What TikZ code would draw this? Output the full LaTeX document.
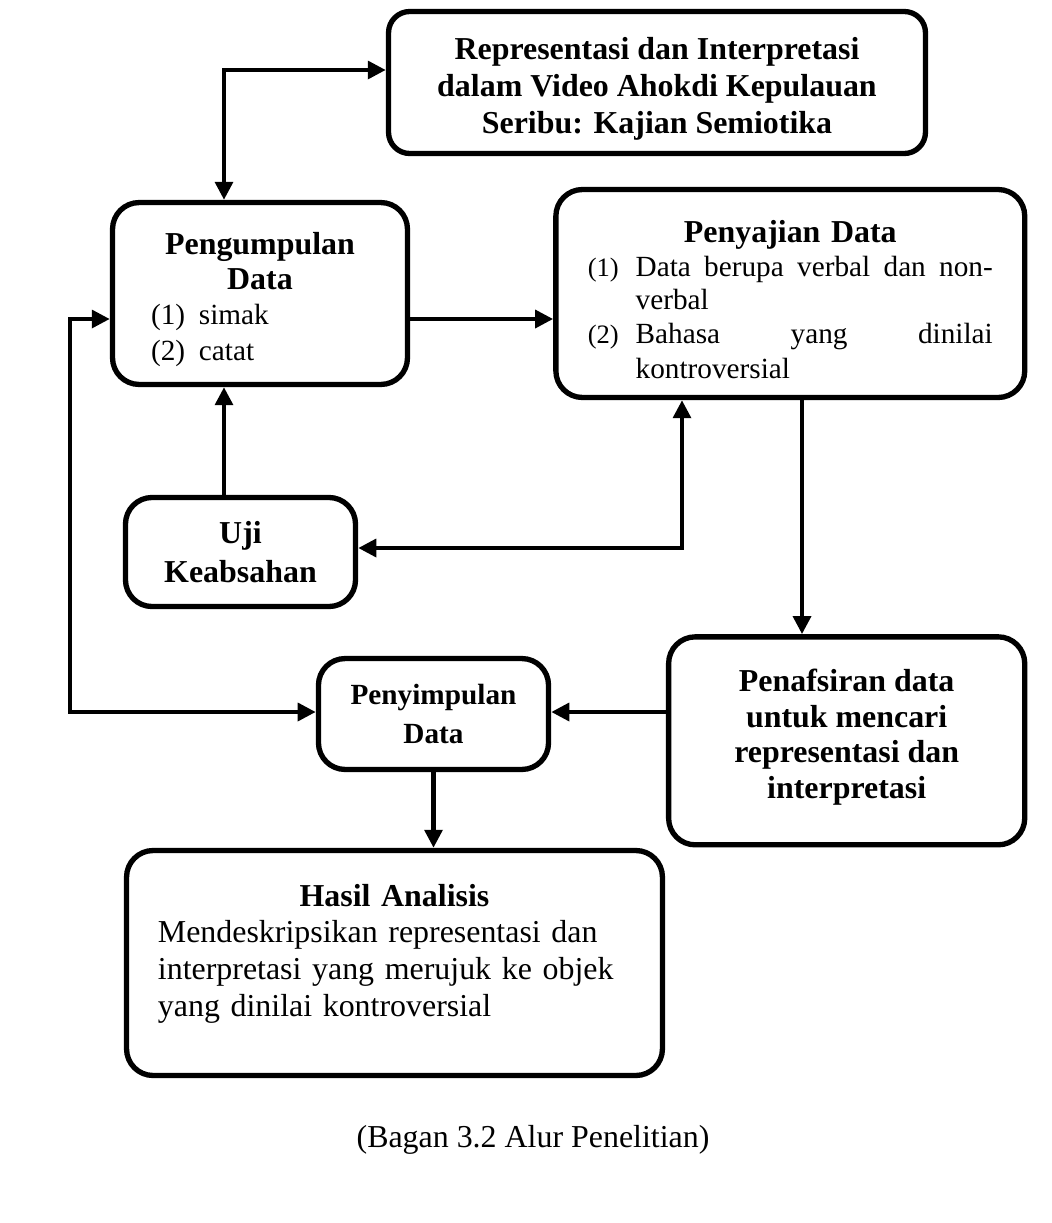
\documentclass[tikz,border=0pt]{standalone}
\usepackage{fontspec}
\setmainfont{Liberation Serif}
\usepackage{tikz}
\usetikzlibrary{arrows.meta,positioning}
\setlength{\parindent}{0pt}

\begin{document}
\begin{tikzpicture}[
    x=0.376pt, y=-0.376pt,
    box/.style={draw, line width=2pt, rounded corners=10pt, inner sep=0pt, align=center, font=\fontsize{12}{13.9}\selectfont\bfseries},
    arrow/.style={-{Triangle[length=6.8pt,width=6.6pt]}, line width=1.8pt},
    twoway/.style={{Triangle[length=6.8pt,width=6.6pt]}-{Triangle[length=6.8pt,width=6.6pt]}, line width=1.8pt}
]
\useasboundingbox (0,0) rectangle (1052,1223);

\node[box, rounded corners=8pt, minimum width=201.9pt, minimum height=53.4pt] (topik) at (657,82.5) {\rule{0pt}{12.8pt}Representasi dan Interpretasi\\dalam Video Ahokdi Kepulauan\\Seribu: Kajian Semiotika};
\node[box, align=left, text width=81.9pt, inner xsep=14.5pt, minimum height=68.4pt, font=\fontsize{12}{13.2}\selectfont\bfseries] (kumpul) at (260,293.5) {{\centering\rule{0pt}{12.8pt}Pengumpulan\\Data\par}\fontsize{11}{13.2}\selectfont\mdseries
\makebox[18pt][l]{(1)}simak\\
\makebox[18pt][l]{(2)}catat};
\node[box, align=left, text width=152.3pt, inner xsep=12pt, minimum height=78.2pt, font=\fontsize{12}{13.2}\selectfont\bfseries, right=53.8pt of kumpul] (saji) {{\centering\rule{0pt}{12.8pt}Penyajian Data\par}\fontsize{11}{12.6}\selectfont\mdseries
\makebox[18pt][l]{\fontsize{10}{12}\selectfont(1)}\hbox to 134.3pt{Data\hfill\ berupa\hfill\ verbal\hfill\ dan\hfill\ non-}\\
\hspace*{18pt}verbal\\
\makebox[18pt][l]{\fontsize{10}{12}\selectfont(2)}\hbox to 134.3pt{Bahasa\hfill yang\hfill dinilai}\\
\hspace*{18pt}kontroversial};
\node[box, minimum width=86.5pt, minimum height=41pt, font=\fontsize{12}{14.7}\selectfont\bfseries] (uji) at (240.5,552) {Uji\\Keabsahan};
\node[box, minimum width=133.9pt, minimum height=78.2pt, font=\fontsize{12}{13.5}\selectfont\bfseries, below=88pt of saji.south east, anchor=north east] (tafsir) {Penafsiran data\\untuk mencari\\representasi dan\\interpretasi\rule[-5.3pt]{0pt}{0pt}};
\node[box, minimum width=86.5pt, minimum height=41.7pt, font=\fontsize{11}{14.3}\selectfont\bfseries] (simpul) at (433.5,714) {Penyimpulan\\Data};
\node[box, align=left, text width=177.9pt, inner xsep=11.8pt, minimum height=84.6pt, font=\fontsize{12}{13.8}\selectfont\bfseries] (hasil) at (394.5,963) {{\centering Hasil Analisis\par}\mdseries
Mendeskripsikan representasi dan\\
interpretasi yang merujuk ke objek\\
yang dinilai kontroversial\rule[-9.8pt]{0pt}{0pt}};
\node[font=\fontsize{12}{14}\selectfont] (bagan) at (533,1140) {(Bagan 3.2 Alur Penelitian)};

\coordinate (sudut1) at (224,70);
\coordinate (sudut2) at (682,548);
\coordinate (kiriatas) at (70,319);
\coordinate (kiribawah) at (70,712);

\draw[twoway] (topik.west |- sudut1) -- (sudut1) -- (sudut1 |- kumpul.north);
\draw[arrow] (kumpul.east |- kiriatas) -- (saji.west |- kiriatas);
\draw[arrow] (sudut1 |- uji.north) -- (sudut1 |- kumpul.south);
\draw[twoway] (sudut2 |- saji.south) -- (sudut2) -- (uji.east |- sudut2);
\draw[arrow] ([xshift=4.4pt]saji.south) -- ([xshift=4.4pt]saji.south |- tafsir.north);
\draw[arrow] (tafsir.west |- kiribawah) -- (simpul.east |- kiribawah);
\draw[twoway] (kumpul.west |- kiriatas) -- (kiriatas) -- (kiribawah) -- (simpul.west |- kiribawah);
\draw[arrow] (simpul.south) -- (simpul.south |- hasil.north);
\end{tikzpicture}
\end{document}
